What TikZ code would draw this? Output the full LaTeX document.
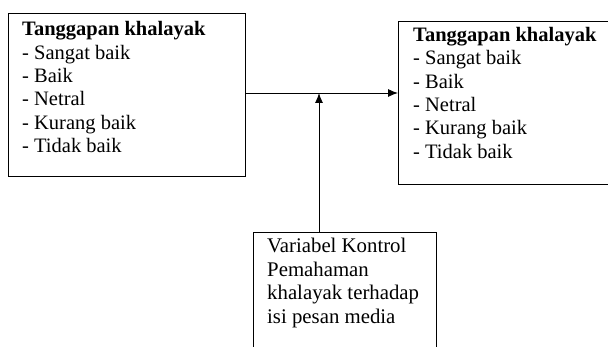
\documentclass[tikz,border=0pt]{standalone}
\usepackage{fontspec}
\setmainfont{Liberation Serif}
\usetikzlibrary{arrows.meta}
\tikzset{
  box/.style={draw, line width=0.9pt, inner sep=0pt, anchor=north west},
  txt/.style={inner sep=0pt, anchor=base west, align=left, font=\fontsize{20.5}{23.4}\selectfont},
  arr/.style={line width=0.9pt, -{Latex[length=10pt,width=8pt]}}
}
\begin{document}
\begin{tikzpicture}[x=1pt,y=-1pt]
\useasboundingbox (0,0) rectangle (608,347);
\clip (0,0) rectangle (608,347);
\node[box, minimum width=237pt, minimum height=163pt] (L) at (8,13) {};
\node[box, minimum width=216pt, minimum height=163pt] (R) at (398,21) {};
\node[box, minimum width=183pt, minimum height=125pt] (B) at (253,232) {};
\node[txt] (Lt) at (22,152.7) {\textbf{Tanggapan khalayak}\\- Sangat baik\\- Baik\\- Netral\\- Kurang baik\\- Tidak baik};
\node[txt] (Rt) at (413,158.3) {\textbf{Tanggapan khalayak}\\- Sangat baik\\- Baik\\- Netral\\- Kurang baik\\- Tidak baik};
\node[txt, font=\fontsize{20.8}{23.5}\selectfont] (Bt) at (267,323.2) {Variabel Kontrol\\Pemahaman\\khalayak terhadap\\isi pesan media};
\coordinate (J) at (319,93);
\draw[arr] (L.east |- J) -- (R.west |- J);
\draw[arr] (B.north -| J) -- (J);
\end{tikzpicture}
\end{document}
